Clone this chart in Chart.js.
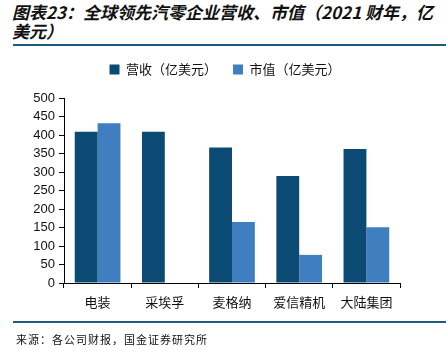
<!DOCTYPE html>
<html>
<head>
<meta charset="utf-8">
<script src="https://cdn.jsdelivr.net/npm/chart.js@4/dist/chart.umd.min.js"></script>
<style>
  body { margin: 0; background: #fff; }
  #wrap { position: relative; width: 446px; height: 351px; overflow: hidden; }
  #title { position: absolute; left: 12px; top: 2px; width: 434px; font: italic bold 17px "Noto Sans CJK SC", sans-serif; line-height: 19px; color: #111; }
  .rule { position: absolute; left: 13px; right: 0; height: 2px; background: #1f5a85; }
  #src { position: absolute; left: 16px; top: 331px; font: 11px "Noto Sans CJK SC", sans-serif; color: #111; letter-spacing: 1px; }
  canvas { position: absolute; left: 0; top: 0; }
</style>
</head>
<body>
<div id="wrap">
  <div id="title">图表23：全球领先汽零企业营收、市值（2021 财年，亿美元）</div>
  <div class="rule" style="top:44px"></div>
  <canvas id="bar-chart" width="446" height="351"></canvas>
  <div class="rule" style="top:321px"></div>
  <div id="src">来源：各公司财报，国金证券研究所</div>
</div>
<script>
var categories = ['电装', '采埃孚', '麦格纳', '爱信精机', '大陆集团'];
var revenue = [409, 409, 366, 289, 362];
var marketCap = [432, null, 165, 76, 151];

// extra space under the legend, and centre it on the page
var legendMargin = {
    id: 'legendMargin',
    beforeInit: function (chart) {
        var fit = chart.legend.fit;
        chart.legend.fit = function () {
            fit.bind(chart.legend)();
            this.height += 12;
        };
    },
    afterLayout: function (chart) {
        chart.legend.left += 25;
        chart.legend.right += 25;
    }
};

var ctx = document.getElementById('bar-chart').getContext('2d');
var myChart = new Chart(ctx, {
    type: 'bar',
    data: {
        labels: categories,
        datasets: [{
            label: '营收（亿美元）',
            data: revenue,
            backgroundColor: '#0b4a72'
        }, {
            label: '市值（亿美元）',
            data: marketCap,
            backgroundColor: '#3f7fbf'
        }]
    },
    options: {
        responsive: false,
        animation: false,
        layout: { padding: { top: 47, right: 46, bottom: 38, left: 0 } },
        datasets: { bar: { categoryPercentage: 0.68, barPercentage: 1 } },
        plugins: {
            tooltip: { enabled: false },
            legend: {
                labels: {
                    boxWidth: 10, boxHeight: 10, padding: 16, color: '#111',
                    font: { family: 'Noto Sans CJK SC', size: 13 }
                }
            }
        },
        scales: {
            x: {
                offset: true,
                afterFit: function (s) { s.height = 30; },
                grid: { offset: true, drawOnChartArea: false, color: '#000', tickLength: 5 },
                border: { color: '#000', width: 1 },
                ticks: { color: '#111', padding: 6, font: { family: 'Noto Sans CJK SC', size: 13 } }
            },
            y: {
                min: 0, max: 500,
                afterFit: function (s) { s.width = 64; },
                grid: { drawOnChartArea: false, color: '#000', tickLength: 5 },
                border: { color: '#000', width: 1 },
                ticks: { stepSize: 50, autoSkip: false, color: '#111', padding: 4, font: { family: 'Liberation Sans', size: 13 } }
            }
        }
    },
    plugins: [legendMargin]
});
</script>
</body>
</html>
